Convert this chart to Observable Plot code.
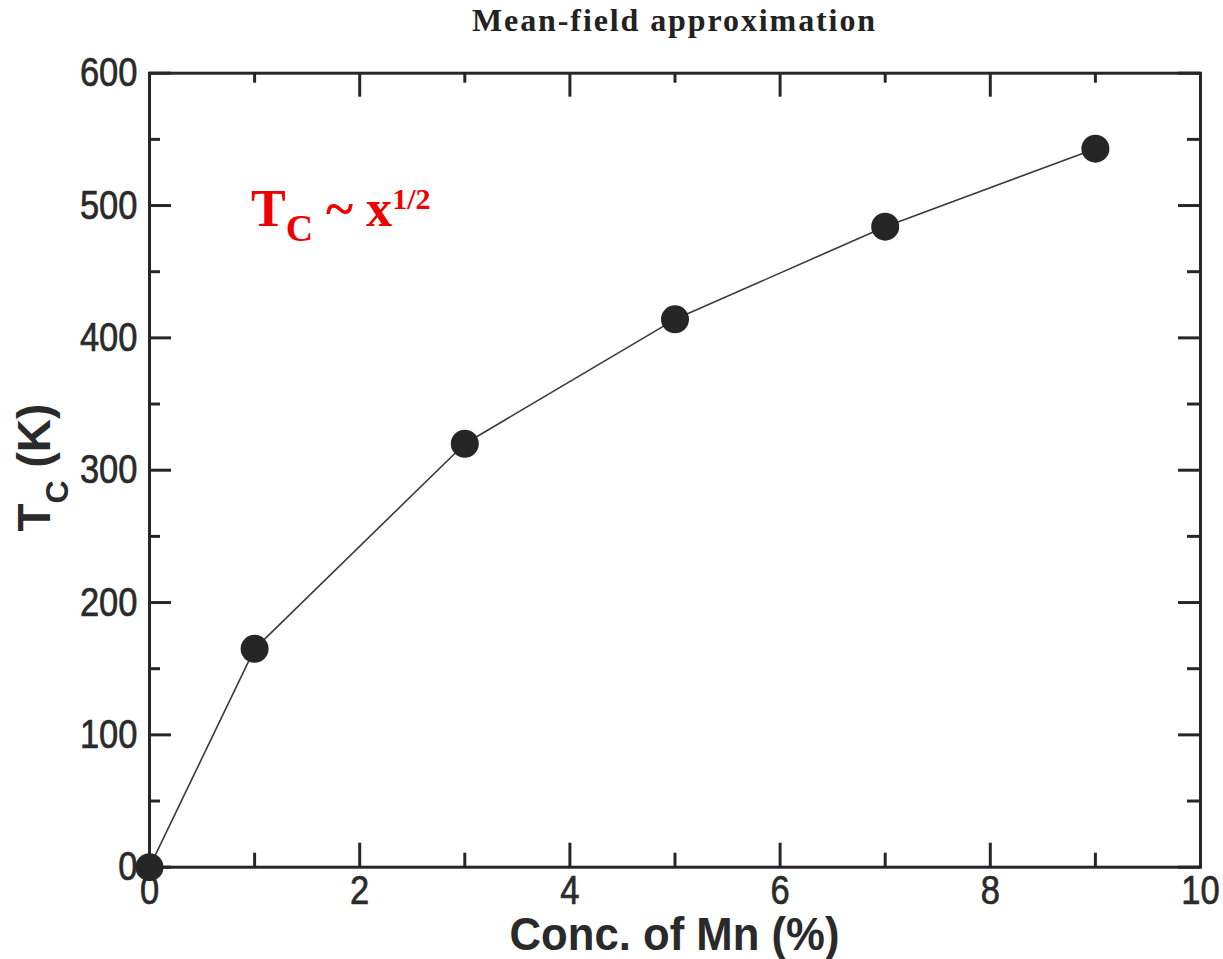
<!DOCTYPE html>
<html>
<head>
<meta charset="utf-8">
<script src="https://cdn.jsdelivr.net/npm/d3@7"></script>
<script src="https://cdn.jsdelivr.net/npm/@observablehq/plot@0.6"></script>
<style>
  body { margin: 0; background: #ffffff; }
  #title {
    height: 50px; box-sizing: border-box;
    padding: 4px 23px 0 149px; text-align: center;
    font-family: "Liberation Serif", "Times New Roman", serif; font-weight: bold;
    font-size: 32px; line-height: 32px; letter-spacing: 1.9px; color: #222;
  }
</style>
</head>
<body>
<div id="title"></div>
<div id="chart"></div>
<script>
// ---- data ----
const concMn = [0, 1, 3, 5, 7, 9];
const tcK = [0, 165, 320, 414, 484, 543];
const xMajorTicks = [0, 2, 4, 6, 8, 10];
const xMinorTicks = [1, 3, 5, 7, 9];
const yMajorTicks = [0, 100, 200, 300, 400, 500, 600];
const yMinorTicks = [50, 150, 250, 350, 450, 550];
const titleText = "Mean-field approximation";
const xLabelText = "Conc. of Mn (%)";
const yLabelMain = "T";
const yLabelSub = "C";
const yLabelRest = " (K)";
const annMain = "T";
const annSub = "C";
const annMid = " ~ x";
const annSup = "1/2";
const annX = 0.97;
const annY = 484;

document.getElementById("title").textContent = titleText;

const data = concMn.map((x, i) => ({x, tc: tcK[i]}));
const ink = "#262626";

const W = 1223, H = 909, mL = 149, mR = 23, mT = 22.7, mB = 92.3;
const innerW = W - mL - mR, innerH = H - mT - mB;

const xTicks = (vals, len, side) => Plot.tickX(vals, {
  x: d => d, stroke: ink, strokeWidth: 3,
  ...(side === "bottom" ? {insetTop: innerH - len} : {insetBottom: innerH - len})
});
const yTicks = (vals, len, side) => Plot.tickY(vals, {
  y: d => d, stroke: ink, strokeWidth: 3,
  ...(side === "left" ? {insetRight: innerW - len} : {insetLeft: innerW - len})
});

const plot = Plot.plot({
  width: W,
  height: H,
  marginLeft: mL,
  marginRight: mR,
  marginTop: mT,
  marginBottom: mB,
  style: {fontFamily: "'Liberation Sans', Arial, sans-serif", color: "#2a2a2a", background: "#ffffff"},
  x: {domain: [0, 10]},
  y: {domain: [0, 600]},
  marks: [
    // tick labels
    Plot.axisX({anchor: "bottom", ticks: xMajorTicks, tickSize: 0, tickPadding: 8, fontSize: 41, tickFormat: d => String(d), label: null}),
    Plot.axisY({anchor: "left", ticks: yMajorTicks, tickSize: 0, tickPadding: 12, fontSize: 41, tickFormat: d => String(d), label: null}),
    // inward ticks on all four sides
    xTicks(xMajorTicks, 24, "bottom"),
    xTicks(xMinorTicks, 14, "bottom"),
    xTicks(xMajorTicks, 24, "top"),
    xTicks(xMinorTicks, 10, "top"),
    yTicks(yMajorTicks, 22, "left"),
    yTicks(yMinorTicks, 11, "left"),
    yTicks(yMajorTicks, 22, "right"),
    yTicks(yMinorTicks, 13, "right"),
    Plot.frame({stroke: ink, strokeWidth: 3}),
    Plot.line(data, {x: "x", y: "tc", stroke: "#3a3a3a", strokeWidth: 1.6}),
    Plot.dot(data, {x: "x", y: "tc", r: 14, fill: ink, stroke: "none"})
  ]
});

const svg = d3.select(plot);
const sx = plot.scale("x"), sy = plot.scale("y");
const midX = (sx.range[0] + sx.range[1]) / 2;
const midY = (sy.range[0] + sy.range[1]) / 2;

// narrow (condensed) look of the tick labels
svg.selectAll("g[aria-label='x-axis tick label'] text, g[aria-label='y-axis tick label'] text")
  .each(function () {
    const n = this.textContent.length;
    d3.select(this)
      .attr("textLength", n * 19.2).attr("lengthAdjust", "spacingAndGlyphs")
      .attr("stroke", "currentColor").attr("stroke-width", 0.7);
  });

// x axis title
svg.append("text")
  .attr("x", midX).attr("y", 900)
  .attr("text-anchor", "middle")
  .attr("font-family", "'Liberation Sans', Arial, sans-serif")
  .attr("font-weight", "bold").attr("font-size", 46)
  .attr("textLength", 330).attr("lengthAdjust", "spacingAndGlyphs")
  .attr("fill", "#2a2a2a")
  .text(xLabelText);

// y axis title
const yl = svg.append("text")
  .attr("transform", `translate(50,${midY - 2}) rotate(-90)`)
  .attr("text-anchor", "middle")
  .attr("font-family", "'Liberation Sans', Arial, sans-serif")
  .attr("font-weight", "bold").attr("font-size", 46)
  .attr("fill", "#2a2a2a");
yl.append("tspan").text(yLabelMain);
yl.append("tspan").attr("font-size", 32).attr("dy", 18).text(yLabelSub);
yl.append("tspan").attr("dy", -18).text(yLabelRest);

// annotation
const ann = svg.append("text")
  .attr("x", sx.apply(annX)).attr("y", sy.apply(annY))
  .attr("text-anchor", "start")
  .attr("fill", "#f00000")
  .attr("font-family", "'Liberation Serif', 'Times New Roman', serif")
  .attr("font-weight", "bold").attr("font-size", 52);
ann.append("tspan").text(annMain);
ann.append("tspan").attr("font-size", 38).attr("dy", 15).text(annSub);
ann.append("tspan").attr("dy", -15).text(annMid);
ann.append("tspan").attr("font-size", 30).attr("dy", -17).text(annSup);

document.getElementById("chart").appendChild(plot);
</script>
</body>
</html>
